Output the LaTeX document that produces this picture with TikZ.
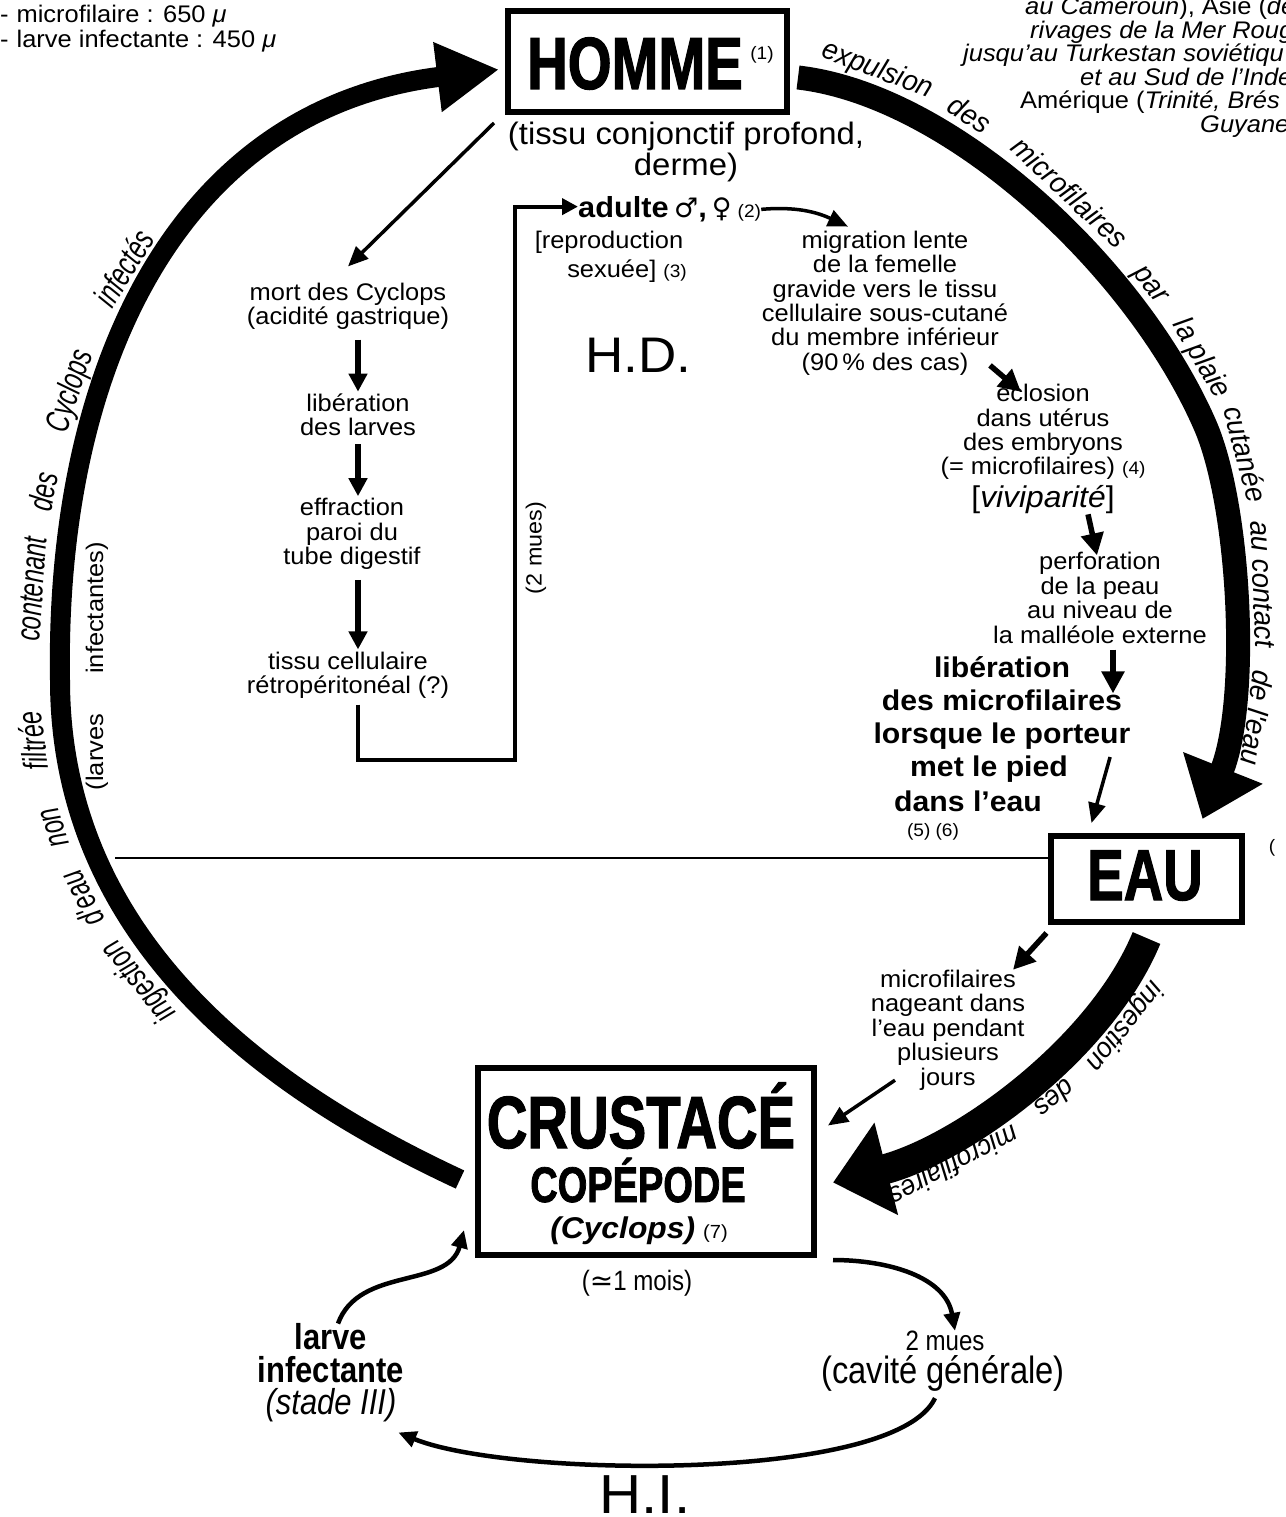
\documentclass[tikz,border=0pt]{standalone}
\usepackage{fontspec}
\setmainfont{Liberation Sans}[FakeStretch=1.06]
\newfontfamily\symb{DejaVu Sans}
\newfontfamily\heavyf{Liberation Sans}[FakeStretch=0.76,BoldFeatures={FakeBold=1.5}]
\newfontfamily\condf{Liberation Sans}[FakeStretch=0.86]
\newfontfamily\arcLf{Liberation Sans}[FakeStretch=0.7]
\newfontfamily\arcRf{Liberation Sans}[FakeStretch=0.95]
\usetikzlibrary{arrows.meta}
\newcommand{\fsz}[2]{\fontsize{#1}{#2}\selectfont}
\tikzset{
  lbl/.style={inner sep=0pt, align=center, font=\fsz{24}{24.4}},
  boxst/.style={draw, line width=6pt, inner sep=0pt},
  heavy/.style={inner sep=0pt, font=\heavyf\bfseries\fsz{74}{74}},
  bandL/.style={line width=20pt, -{Triangle[length=62pt,width=66pt]}},
  bandR/.style={line width=24pt, -{Triangle[length=55pt,width=82pt]}},
  bandE/.style={line width=30pt, -{Triangle[length=55pt,width=92pt]}},
  arrA/.style={line width=3.5pt, -{Triangle[length=20pt,width=17pt]}},
  arrB/.style={line width=5.5pt, -{Triangle[length=18pt,width=18pt]}},
  arrC/.style={line width=5.5pt, -{Triangle[length=22pt,width=22pt]}},
  elbow/.style={line width=4pt, -{Triangle[length=16pt,width=16pt]}},
  curv/.style={line width=4.5pt, -{Triangle[length=18pt,width=16pt]}},
  divline/.style={line width=2pt},
  wl/.style={sloped, allow upside down, anchor=base, yshift=19pt, inner sep=0pt, font=\arcLf\itshape\fsz{34}{34}},
  wr/.style={sloped, allow upside down, anchor=base, yshift=19pt, inner sep=0pt, font=\arcRf\itshape\fsz{29}{29}},
  we/.style={sloped, allow upside down, anchor=base, yshift=19pt, inner sep=0pt, font=\arcRf\itshape\fsz{28}{28}},
}
\begin{document}
\begin{tikzpicture}[x=1pt,y=-1pt]
\fill[white] (0,0) rectangle (1285,1517);
\useasboundingbox (0,0) rectangle (1285,1517);

% boxes
\node[boxst, minimum width=279pt, minimum height=101pt] (hom) at (647.5,61.5) {};
\node[boxst, minimum width=191pt, minimum height=86pt] (eau) at (1146.5,879) {};
\node[boxst, minimum width=336pt, minimum height=187pt] (cru) at (646,1161.5) {};

\node[heavy, anchor=base] (homt) at (635,89) {HOMME};
\node[lbl, font=\fsz{18}{18}] (hom1) at (762,55) {(1)};
\node[heavy, font=\heavyf\bfseries\fsz{72}{72}, anchor=base] (eaut) at (1145,900) {EAU};
\node[heavy, anchor=base] (crut) at (641,1148) {CRUSTACÉ};
\node[heavy, font=\heavyf\bfseries\fsz{50}{50}, anchor=base] (copt) at (638,1202) {COPÉPODE};
\node[lbl, anchor=base] (cyct) at (639,1238) {{\bfseries\itshape\fsz{30}{30}(Cyclops)}\hspace{8pt}{\fsz{19}{19}(7)}};

% top texts
\node[lbl, anchor=base west] (tl1) at (0,23) {-\hspace{8pt}microfilaire : 650 \textit{μ}};
\node[lbl, anchor=base west] (tl2) at (0,48) {-\hspace{8pt}larve infectante : 450 \textit{μ}};
\node[lbl, anchor=base west] (tr1) at (1025,15) {\textit{au Cameroun}), Asie (\textit{de}};
\node[lbl, anchor=base west] (tr2) at (1030,39) {\textit{rivages de la Mer Roug}};
\node[lbl, anchor=base west] (tr3) at (963,62) {\textit{jusqu'au Turkestan soviétiqu}};
\node[lbl, anchor=base west] (tr4) at (1080,86) {\textit{et au Sud de l'Inde}};
\node[lbl, anchor=base west] (tr5) at (1020,109) {Amérique (\textit{Trinité, Brés}};
\node[lbl, anchor=base west] (tr6) at (1200,133) {\textit{Guyanes}};

% H.D. side
\node[lbl, font=\fsz{31}{31}] (tis) at (686,152) {(tissu conjonctif profond,\\derme)};
\node[lbl, font=\bfseries\fsz{29}{29}, anchor=base west] (adl) at (578,217) {adulte};
\node[lbl, anchor=base west] (sym) at (674,217) {{\symb\fsz{27}{27}♂}{\bfseries\fsz{29}{29},}\hspace{5pt}{\symb\fsz{27}{27}♀}\hspace{6pt}{\fsz{18}{18}(2)}};
\node[lbl] (rep1) at (609,242) {[reproduction};
\node[lbl] (rep2) at (627,271) {sexuée] {\fsz{18}{18}(3)}};
\node[lbl, font=\fsz{50}{50}] (hd) at (638,355) {H.D.};
\node[lbl] (mig) at (885,303) {migration lente\\de la femelle\\gravide vers le tissu\\cellulaire sous-cutané\\du membre inférieur\\(90\,\% des cas)};
\node[lbl] (ecl) at (1043,432) {éclosion\\dans utérus\\des embryons\\(= microfilaires) {\fsz{18}{18}(4)}};
\node[lbl, font=\fsz{30}{30}] (viv) at (1043,500) {[\textit{viviparité}]};
\node[lbl] (perf) at (1100,598) {perforation\\de la peau\\au niveau de\\la malléole externe};
\node[lbl, font=\bfseries\fsz{28.5}{33}] (libb) at (1002,703) {libération\\des microfilaires\\lorsque le porteur};
\node[lbl, font=\bfseries\fsz{28.5}{33}] (met) at (989,769) {met le pied};
\node[lbl, font=\bfseries\fsz{28.5}{33}] (dans) at (968,801) {dans l'eau};
\node[lbl, font=\fsz{18}{18}] (n56) at (933,832) {(5) (6)};
\node[lbl, font=\fsz{18}{18}] (p8) at (1272,848) {(};

\node[lbl] (mort) at (348,306) {mort des Cyclops\\(acidité gastrique)};
\node[lbl] (lib) at (358,415) {libération\\des larves};
\node[lbl] (eff) at (352,534) {effraction\\paroi du\\tube digestif};
\node[lbl] (tiss) at (348,675) {tissu cellulaire\\rétropéritonéal (?)};
\node[lbl, rotate=90, font=\fsz{22}{22}] (m2) at (536,548) {(2 mues)};
\node[lbl, rotate=90] (lv1) at (97,752) {(larves};
\node[lbl, rotate=90] (lv2) at (97,608) {infectantes)};

% H.I. side
\node[lbl] (nage) at (948,1030) {microfilaires\\nageant dans\\l'eau pendant\\plusieurs\\jours};
\node[lbl, font=\condf\fsz{28}{28}] (mois) at (637,1283) {({\symb ≃}1 mois)};
\node[lbl, font=\condf\fsz{36}{32.5}] (larv) at (331,1373) {\textbf{larve}\\\textbf{infectante}\\\textit{(stade III)}};
\node[lbl, font=\condf\fsz{28}{28}] (mues) at (945,1341) {2 mues};
\node[lbl, font=\condf\fsz{38}{38}] (cav) at (943,1373) {(cavité générale)};
\node[lbl, font=\fsz{55}{55}] (hi) at (645,1495) {H.I.};

% divider
\coordinate (hl) at (115,858);
\draw[divline] (hl) -- (hl -| eau.west);

% big arcs
\coordinate (lm) at (60,680);
\coordinate (rm) at (1205,425);
\draw[bandL] ([shift={(-15,18)}]cru.west) .. controls (300,1105) and (60,960) .. (lm) .. controls (55,380) and (170,110) .. ([shift={(-6,8)}]hom.west);
\draw[bandR] ([shift={(8,16)}]hom.east) .. controls (950,95) and (1135,265) .. (rm) .. controls (1240,505) and (1250,700) .. ([shift={(56,-14)}]eau.north);
\draw[bandE] ([yshift=-13pt]eau.south) .. controls (1100,1050) and (960,1150) .. ([shift={(16,21)}]cru.east);

% arc words
\path ([shift={(-15,18)}]cru.west) .. controls (300,1105) and (60,960) .. (lm)
  node[wl, pos=0.585] (lw1) {ingestion}
  node[wl, pos=0.72] (lw2) {d'eau}
  node[wl, pos=0.82] (lw3) {non}
  node[wl, pos=0.93] (lw4) {filtrée}
  .. controls (55,380) and (170,110) .. ([shift={(-6,8)}]hom.west)
  node[wl, pos=0.10] (lw5) {contenant}
  node[wl, pos=0.21] (lw6) {des}
  node[wl, pos=0.33] (lw7) {Cyclops}
  node[wl, pos=0.49] (lw8) {infectés};
\path ([shift={(8,16)}]hom.east) .. controls (950,95) and (1135,265) .. (rm)
  node[wr, pos=0.15] (rw1) {expulsion}
  node[wr, pos=0.33] (rw2) {des}
  node[wr, pos=0.54] (rw3) {microfilaires}
  node[wr, pos=0.74] (rw4) {par}
  node[wr, pos=0.89] (rw5) {la plaie}
  .. controls (1240,505) and (1250,700) .. ([shift={(56,-14)}]eau.north)
  node[wr, pos=0.13] (rw6) {cutanée}
  node[wr, pos=0.45] (rw7) {au contact}
  node[wr, pos=0.74] (rw8) {de l'eau};
\path ([yshift=-13pt]eau.south) .. controls (1100,1050) and (960,1150) .. ([shift={(16,21)}]cru.east)
  node[we, pos=0.22] (ew1) {ingestion}
  node[we, pos=0.45] (ew2) {des}
  node[we, pos=0.72] (ew3) {microfilaires};

% connectors H.D.
\draw[arrA] ([shift={(-11,8)}]hom.south west) -- ([yshift=16pt]mort.north);
\draw[arrB, shorten <=10pt, shorten >=2pt] (mort.south -| lib.north) -- (lib.north);
\draw[arrB, shorten <=8pt, shorten >=2pt] (lib.south) -- (lib.south |- eff.north);
\draw[arrB, shorten <=10pt, shorten >=2pt] (eff.south -| lib.south) -- (lib.south |- tiss.north);
\coordinate (cL) at (515,760);
\draw[elbow, shorten <=6pt] (tiss.south -| lib.south) |- (cL) |- (adl.west);
\draw[arrA] (sym.east) to[out=5,in=155] ([shift={(-37,-4)}]mig.north);
\draw[arrC] ([shift={(105,-10)}]mig.south) -- ([shift={(-22,8)}]ecl.north);
\draw[arrC] ([shift={(45,0)}]viv.south) -- ([shift={(-3,3)}]perf.north);
\draw[arrC] ([shift={(13,6)}]perf.south) -- ([shift={(111,37)}]libb.north);
\draw[arrA] ([shift={(42,-12)}]met.east) -- ([shift={(-55,-10)}]eau.north);

% connectors H.I.
\draw[arrC] ([shift={(-100,8)}]eau.south) -- ([shift={(65,0)}]nage.north);
\draw[arrA] ([shift={(-53,-10)}]nage.south) -- ([shift={(11,-36)}]cru.east);
\draw[curv] ([shift={(16,2)}]cru.south east) to[out=0,in=100] ([xshift=10pt]mues.north);
\draw[curv] ([shift={(-8,7)}]cav.south) .. controls +(-40,85) and +(110,45) .. ([shift={(-6,10)}]larv.south east);
\draw[curv] ([xshift=7pt]larv.north) to[out=70,in=-105] ([shift={(-11,-28)}]cru.south west);
\end{tikzpicture}
\end{document}
